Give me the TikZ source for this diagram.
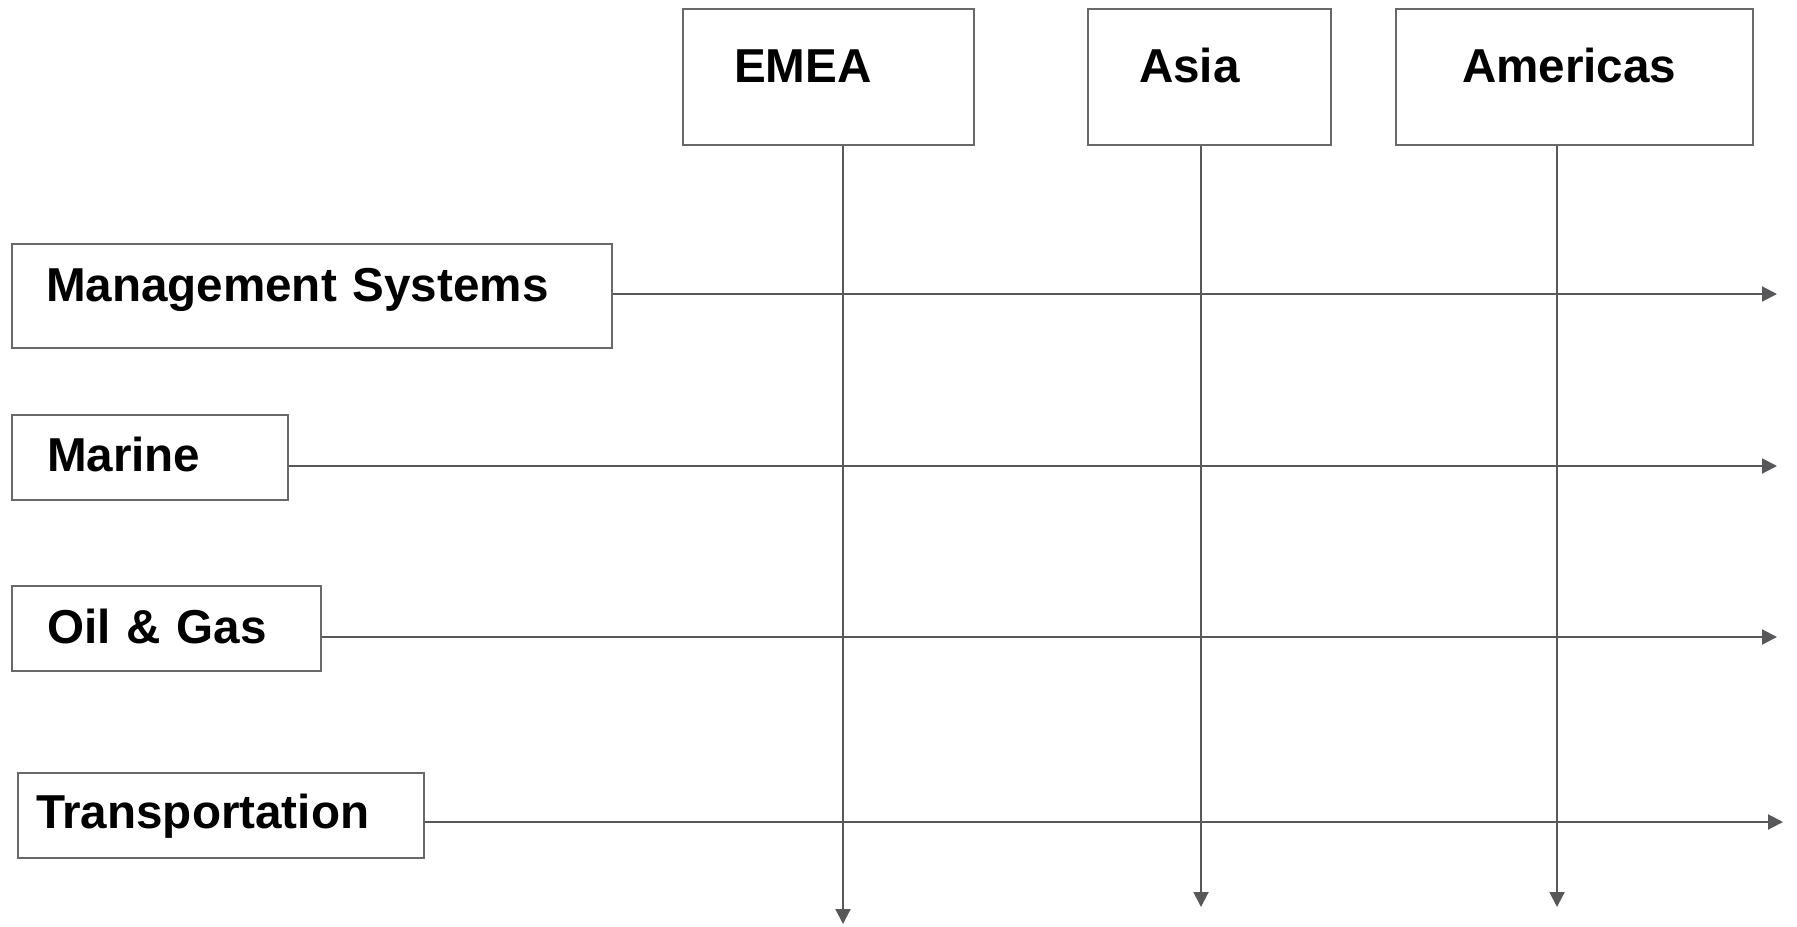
\documentclass[tikz,border=0pt]{standalone}
\usepackage{fontspec}
\setmainfont{Liberation Sans}
\usepackage{tikz}
\usetikzlibrary{arrows.meta}
\definecolor{linegray}{RGB}{88,88,90}
\definecolor{boxgray}{RGB}{105,105,105}

\begin{document}
\begin{tikzpicture}[
  x=0.5pt, y=-0.5pt,
  box/.style={draw=boxgray, line width=1pt, anchor=north west, inner sep=0pt, align=left,
    text height=17pt, font=\bfseries\fontsize{23.8}{28}\selectfont},
  arr/.style={-{Triangle[length=7.5pt, width=7.5pt]}, draw=linegray, fill=linegray, line width=1pt}
]
\useasboundingbox (0,0) rectangle (1797,926);
% regions
\node[box, text width=94.5pt, inner xsep=25.5pt, inner ysep=19.5pt, text depth=12pt] (emea) at (682,8) {EMEA};
\node[box, text width=70.5pt, inner xsep=25.5pt, inner ysep=19.5pt, text depth=12pt] (asia) at (1087,8) {Asia};
\node[box, text width=112.5pt, inner xsep=33pt, inner ysep=19.5pt, text depth=12pt] (americas) at (1395,8) {Americas};
% business lines
\node[box, text width=266pt, inner xsep=17pt, inner ysep=11.5pt, text depth=12pt] (mgmt) at (11,243) {Management Systems};
\node[box, text width=103pt, inner xsep=17.5pt, inner ysep=11pt, text depth=3.5pt] (marine) at (11,414) {Marine};
\node[box, text width=119.5pt, inner xsep=17.5pt, inner ysep=11.5pt, text depth=2.5pt] (oilgas) at (11,585) {Oil \& Gas};
\node[box, text width=185pt, inner xsep=9pt, inner ysep=10.5pt, text depth=4.5pt] (transport) at (17,772) {Transportation};
% arrow ends
\coordinate (mgmtend) at (1777,294);
\coordinate (marineend) at (1777,466);
\coordinate (oilgasend) at (1777,637);
\coordinate (transportend) at (1783,822);
\coordinate (emeaend) at (843,924);
\coordinate (asiaend) at (1201,907);
\coordinate (americasend) at (1557,907);
\draw[arr] (mgmt.east |- mgmtend) -- (mgmtend);
\draw[arr] (marine.east |- marineend) -- (marineend);
\draw[arr] (oilgas.east |- oilgasend) -- (oilgasend);
\draw[arr] (transport.east |- transportend) -- (transportend);
\draw[arr] (emea.south -| emeaend) -- (emeaend);
\draw[arr] (asia.south -| asiaend) -- (asiaend);
\draw[arr] (americas.south -| americasend) -- (americasend);
\end{tikzpicture}
\end{document}
